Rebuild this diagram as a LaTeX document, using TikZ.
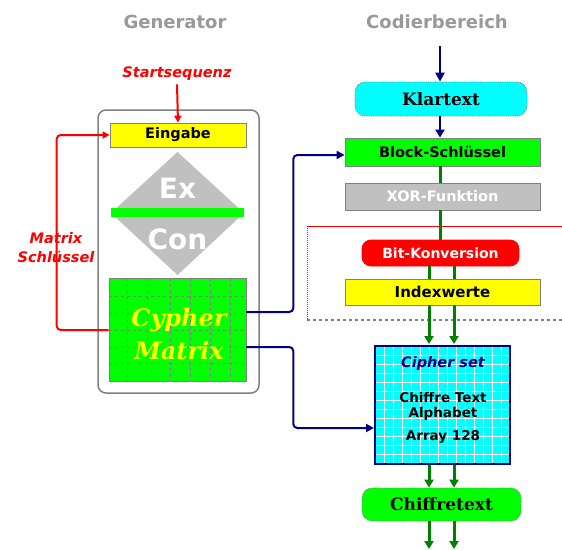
\documentclass[tikz,border=0pt]{standalone}
\usepackage{fontspec}
\setmainfont{DejaVu Sans}
\newfontfamily\serifb{DejaVu Serif}
\usetikzlibrary{arrows.meta,calc}
\definecolor{tgray}{HTML}{999999}
\definecolor{lgreen}{HTML}{00FF00}
\definecolor{dgreen}{HTML}{008000}
\definecolor{navy}{HTML}{000080}
\definecolor{lgray}{HTML}{C0C0C0}
\definecolor{ylw}{HTML}{FFFF00}
\definecolor{cyn}{HTML}{00FFFF}
\definecolor{rd}{HTML}{FF0000}
\tikzset{
  boxbase/.style={draw=gray, line width=0.8pt, inner sep=0pt, font=\bfseries},
  title/.style={text=tgray, font=\bfseries\fontsize{18}{20}\selectfont},
  garrow/.style={draw=dgreen, line width=3pt, -{Triangle[length=8pt,width=9pt]}},
  gline/.style={draw=dgreen, line width=3pt},
  barrow/.style={draw=navy, line width=2pt, rounded corners=4pt, -{Triangle[length=8pt,width=8pt]}},
  rarrow/.style={draw=rd, line width=2pt, rounded corners=4pt, -{Triangle[length=7pt,width=7pt]}},
  redlbl/.style={text=rd, font=\bfseries\itshape\fontsize{14.5}{16}\selectfont, align=center},
}
\begin{document}
\begin{tikzpicture}[x=1pt,y=-1pt]
\useasboundingbox (0,0) rectangle (562,549);
\fill[white] (0,0) rectangle (562,549);

% titles
\node[title] (tgen) at (175,22) {Generator};
\node[title] (tcod) at (437,22) {Codierbereich};

% generator frame
\node[draw=gray, line width=1.5pt, rounded corners=8pt, minimum width=161pt, minimum height=283pt, inner sep=0pt] (genbox) at (178.5,251.5) {};

% Eingabe
\node[boxbase, fill=ylw, minimum width=136pt, minimum height=24pt, font=\bfseries\fontsize{14.5}{16}\selectfont] (eing) at (178,135) {Eingabe};

% diamond
\fill[lgray] (177.5,152) -- (244,213) -- (177.5,275) -- (111,213) -- cycle;
\fill[lgreen] (111,208) rectangle (244,217);
\node[text=white, font=\bfseries\fontsize{28}{30}\selectfont] (ex) at (177.5,188) {Ex};
\node[text=white, font=\bfseries\fontsize{28}{30}\selectfont] (con) at (177.5,239) {Con};

% Cypher matrix
\node[fill=lgreen, draw=gray, line width=0.6pt, minimum width=137pt, minimum height=103pt, inner sep=0pt] (matrix) at (177.5,329.5) {};
\begin{scope}
\clip (109,278) rectangle (246,381);
\foreach \xx in {127,147,170,190,210,230} \draw[gray, line width=1pt, dashed] (\xx,278) -- (\xx,381);
\foreach \yy in {296,313,330,347,363} \draw[gray, line width=1pt, dashed] (109,\yy) -- (246,\yy);
\end{scope}
\node[text=ylw, font=\serifb\bfseries\itshape\fontsize{24}{33}\selectfont, align=center] (mtxt) at (179,334) {Cypher\\Matrix};

% Startsequenz
\node[redlbl] (start) at (177,74) {Startsequenz};
\draw[rarrow] (start.south) -- (eing.north);

% Matrix Schluessel
\node[redlbl, font=\bfseries\itshape\fontsize{14.5}{19}\selectfont] (mschl) at (56,248) {Matrix\\Schlüssel};
\draw[rarrow] ([yshift=-0.5pt]matrix.west) -- ++(-52,0) |- (eing.west);

% right column
\coordinate (topin) at (440,46);
\node[boxbase, fill=cyn, draw=gray, densely dotted, rounded corners=10pt, minimum width=172pt, minimum height=34pt, font=\serifb\bfseries\fontsize{17}{19}\selectfont] (klar) at (441,99) {Klartext};
\node[boxbase, fill=lgreen, minimum width=195pt, minimum height=28pt, font=\bfseries\fontsize{14.5}{16}\selectfont] (block) at (442.5,152) {Block-Schlüssel};
\node[boxbase, fill=lgray, draw=gray, minimum width=195pt, minimum height=27pt, text=white, font=\bfseries\fontsize{14.5}{16}\selectfont] (xor) at (442.5,196.5) {XOR-Funktion};

% region box
\draw[rd, line width=1pt] (562,226) -- (307,226);
\draw[rd, line width=1pt, densely dotted] (307,226) -- (307,320);
\draw[gray, line width=1.5pt, dashed] (307,320) -- (562,320);

\node[boxbase, fill=rd, draw=rd, rounded corners=9pt, minimum width=157pt, minimum height=26pt, text=white, font=\bfseries\fontsize{14}{16}\selectfont] (bit) at (440.5,253) {Bit-Konversion};
\node[boxbase, fill=ylw, minimum width=195pt, minimum height=26pt, font=\bfseries\fontsize{15}{16}\selectfont] (index) at (442.5,292) {Indexwerte};

% cipher set
\node[fill=cyn, draw=navy, line width=2pt, minimum width=135pt, minimum height=118pt, inner sep=0pt] (cset) at (442.5,405) {};
\begin{scope}
\clip (376,347) rectangle (509,463);
\foreach \xx in {384,393,...,510} \draw[white, line width=0.8pt] (\xx,346) -- (\xx,464);
\foreach \yy in {355,364,...,464} \draw[white, line width=0.8pt] (375,\yy) -- (510,\yy);
\end{scope}
\draw[navy, line width=2pt] (375,346) rectangle (510,464);
\node[text=navy, font=\bfseries\itshape\fontsize{14.5}{16}\selectfont] (cstitle) at (443,363) {Cipher set};
\node[font=\bfseries\fontsize{13.5}{15}\selectfont, align=center] (cstxt) at (443,406) {Chiffre Text\\Alphabet};
\node[font=\bfseries\fontsize{13.5}{15}\selectfont] (csarr) at (443,437) {Array 128};

\node[boxbase, fill=lgreen, draw=gray, densely dotted, rounded corners=10pt, minimum width=159pt, minimum height=33pt, font=\serifb\bfseries\fontsize{17}{19}\selectfont] (chiff) at (441.5,504.5) {Chiffretext};

% column coordinates
\coordinate (cA) at (429,0);
\coordinate (cB) at (454,0);
\coordinate (cM) at (440,0);
\coordinate (bottom) at (440,549);

% navy arrows
\draw[navy, line width=2.5pt, -{Triangle[length=9pt,width=9pt]}] (topin) -- (klar.north -| topin);
\draw[navy, line width=2.5pt, -{Triangle[length=8pt,width=9pt]}] (klar.south -| topin) -- (block.north -| topin);

% green connectors
\draw[gline] (block.south -| cM) -- (xor.north -| cM);
\draw[gline] (xor.south -| cM) -- (bit.north -| cM);
\draw[gline] (bit.south -| cA) -- (index.north -| cA);
\draw[gline] (bit.south -| cB) -- (index.north -| cB);
\draw[garrow] (index.south -| cA) -- ([yshift=1pt]cset.north -| cA);
\draw[garrow] (index.south -| cB) -- ([yshift=1pt]cset.north -| cB);
\draw[garrow] (cset.south -| cA) -- (chiff.north -| cA);
\draw[garrow] (cset.south -| cB) -- (chiff.north -| cB);
\draw[garrow] (chiff.south -| cA) -- (bottom -| cA);
\draw[garrow] (chiff.south -| cB) -- (bottom -| cB);

% blue connectors from matrix
\draw[barrow] ([yshift=17.5pt]matrix.east) -- ++(47,0) |- ([yshift=-3pt]block.west);
\draw[barrow] ([yshift=-17.5pt]matrix.east) -- ++(47,0) |- ([yshift=-23pt]cset.west);
\end{tikzpicture}
\end{document}
